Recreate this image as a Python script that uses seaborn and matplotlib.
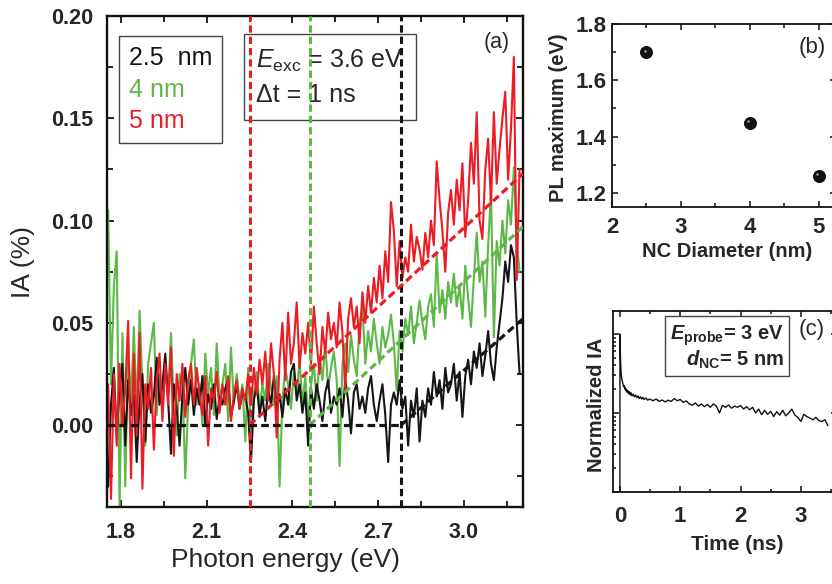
import numpy as np
import pandas as pd
import matplotlib
matplotlib.use("Agg")
import matplotlib.pyplot as plt
import matplotlib.transforms as mtransforms
import seaborn as sns
from matplotlib.lines import Line2D
from matplotlib.ticker import MultipleLocator, FormatStrFormatter, LogLocator, NullFormatter

# ---- panel (a): induced absorption spectra at dt = 1 ns ----
energy = np.round(np.linspace(1.755, 3.195, 145), 3)   # eV, spectrometer grid

ia_25nm = [
    -0.030, 0.010, 0.028, -0.005, 0.018, 0.030, -0.010, 0.022, 0.005, 0.015,
    -0.018, 0.012, 0.025, -0.008, 0.020, 0.006, 0.014, 0.033, 0.010, 0.020,
    0.035, 0.012, -0.014, 0.020, 0.008, -0.010, 0.015, 0.028, 0.010, 0.022,
    0.005, 0.018, 0.010, 0.024, 0.000, 0.015, 0.008, 0.020, 0.003, 0.014,
    0.010, 0.018, 0.022, 0.004, 0.012, 0.020, 0.008, 0.016, 0.014, 0.006,
    -0.018, 0.012, 0.020, 0.005, 0.014, 0.002, 0.018, 0.010, 0.024, 0.008,
    0.015, 0.004, 0.018, 0.010, 0.026, 0.030, 0.012, 0.020, 0.006, 0.016,
    -0.010, 0.018, 0.008, 0.020, 0.012, 0.002, 0.016, 0.022, 0.006, 0.014,
    0.010, 0.018, 0.004, 0.022, 0.012, -0.004, 0.016, 0.020, 0.008, 0.014,
    0.006, 0.018, 0.024, 0.010, 0.002, 0.012, 0.020, 0.005, -0.018, 0.010,
    0.016, 0.010, 0.022, 0.008, 0.014, -0.010, 0.012, 0.004, 0.018, -0.008,
    0.012, 0.004, 0.018, 0.010, 0.026, 0.014, 0.022, 0.008, 0.028, 0.016,
    0.020, 0.030, 0.012, 0.026, 0.004, 0.024, 0.032, 0.020, 0.036, 0.028,
    0.040, 0.024, 0.034, 0.046, 0.030, 0.022, 0.038, 0.050, 0.062, 0.080,
    0.070, 0.088, 0.082, 0.050, 0.025,
]
ia_4nm = [
    0.105, 0.020, 0.068, 0.085, -0.040, 0.045, -0.030, 0.040, 0.010, 0.048,
    0.005, 0.056, 0.020, -0.010, 0.030, 0.040, 0.050, 0.005, 0.025, 0.010,
    0.030, 0.015, 0.045, 0.008, -0.005, 0.025, 0.020, -0.026, 0.010, 0.030,
    0.042, 0.010, 0.020, 0.000, 0.035, 0.015, 0.028, 0.005, 0.040, 0.012,
    0.020, 0.030, 0.002, 0.038, 0.010, 0.025, 0.012, 0.020, -0.008, 0.028,
    -0.004, 0.015, 0.026, 0.008, 0.020, 0.012, 0.030, 0.018, 0.010, 0.024,
    -0.030, 0.012, 0.028, 0.020, 0.008, 0.026, 0.015, 0.032, 0.010, 0.024,
    0.002, 0.020, 0.030, 0.012, 0.034, 0.022, 0.040, 0.018, 0.028, 0.036,
    0.022, -0.020, 0.030, 0.040, 0.026, 0.044, 0.032, 0.024, 0.050, 0.058,
    0.030, 0.046, 0.036, 0.052, 0.040, 0.030, 0.048, 0.038, 0.044, 0.054,
    0.040, 0.017, 0.046, 0.036, 0.052, 0.044, 0.058, 0.040, 0.050, 0.061,
    0.050, 0.042, 0.058, 0.064, 0.048, 0.084, 0.055, 0.066, 0.052, 0.070,
    0.060, 0.074, 0.058, 0.068, 0.052, 0.078, 0.062, 0.048, 0.072, 0.094,
    0.070, 0.080, 0.053, 0.088, 0.114, 0.043, 0.090, 0.078, 0.100, 0.084,
    0.110, 0.098, 0.126, 0.090, 0.075,
]
ia_5nm = [
    0.020, -0.036, 0.025, -0.010, 0.030, 0.000, 0.018, 0.051, -0.026, 0.035,
    -0.005, 0.045, -0.031, 0.020, 0.008, 0.028, -0.012, 0.022, 0.035, 0.002,
    0.030, 0.010, 0.038, -0.015, 0.025, 0.012, 0.030, 0.004, 0.022, 0.030,
    0.010, 0.028, 0.015, 0.005, 0.024, -0.010, 0.018, 0.012, 0.026, 0.006,
    0.020, 0.010, 0.024, 0.002, 0.015, 0.022, 0.008, 0.018, 0.012, 0.025,
    0.010, 0.028, 0.015, 0.032, 0.020, 0.036, 0.012, 0.040, 0.025, -0.006,
    0.032, 0.050, 0.022, 0.055, 0.030, 0.040, 0.060, 0.028, 0.045, 0.035,
    0.050, 0.030, 0.058, 0.040, 0.025, 0.048, 0.035, 0.055, 0.042, 0.050,
    0.038, 0.060, 0.045, 0.017, 0.052, 0.062, 0.048, 0.058, 0.040, 0.065,
    0.050, 0.068, 0.055, 0.072, 0.060, 0.078, 0.062, 0.085, 0.070, 0.109,
    0.095, 0.068, 0.090, 0.072, 0.082, 0.075, 0.098, 0.080, 0.092, 0.086,
    0.076, 0.094, 0.082, 0.100, 0.088, 0.129, 0.110, 0.095, 0.075, 0.104,
    0.115, 0.098, 0.120, 0.105, 0.128, 0.092, 0.110, 0.138, 0.118, 0.153,
    0.100, 0.091, 0.125, 0.140, 0.108, 0.153, 0.118, 0.135, 0.150, 0.163,
    0.120, 0.145, 0.180, 0.071, 0.125,
]
sizes = ["2.5  nm", "4 nm", "5 nm"]
onsets = [2.78, 2.46, 2.25]          # eV, absorption onsets (dashed verticals)
fit_end = [0.052, 0.097, 0.123]      # IA of the linear fits at the high-energy end

# ---- panel (b): PL maximum vs NC size ----
nc_diameter = [2.5, 4.0, 5.0]
pl_max = [1.70, 1.45, 1.26]

# ---- panel (c): IA decay, E_probe = 3 eV, 5 nm NCs ----
time_ns = [
    -0.002, 0.0, 0.005, 0.01, 0.015, 0.02, 0.03, 0.04, 0.05, 0.06,
    0.07, 0.08, 0.09, 0.10, 0.11, 0.12, 0.13, 0.14, 0.15, 0.16,
    0.17, 0.18, 0.19, 0.20, 0.22, 0.24, 0.26, 0.28, 0.30, 0.32,
    0.34, 0.36, 0.38, 0.40, 0.43, 0.46, 0.49,
    0.55, 0.60, 0.65, 0.70, 0.75, 0.80, 0.85, 0.90, 0.95, 1.00,
    1.05, 1.10, 1.15, 1.20, 1.25, 1.30, 1.35, 1.40, 1.45, 1.50,
    1.55, 1.60, 1.65, 1.70, 1.75, 1.80, 1.85, 1.90, 1.95, 2.00,
    2.05, 2.10, 2.15, 2.20, 2.25, 2.30, 2.35, 2.40, 2.45, 2.50,
    2.55, 2.60, 2.65, 2.70, 2.75, 2.80, 2.85, 2.90, 2.95, 3.00,
    3.05, 3.10, 3.15, 3.20, 3.25, 3.30, 3.35, 3.40, 3.45,
]
norm_ia = [
    0.005, 1.0, 0.62, 0.45, 0.36, 0.31, 0.27, 0.25, 0.23, 0.215,
    0.222, 0.20, 0.208, 0.19, 0.198, 0.182, 0.192, 0.176, 0.186, 0.172,
    0.182, 0.168, 0.178, 0.165, 0.172, 0.160, 0.168, 0.156, 0.165, 0.152,
    0.160, 0.150, 0.158, 0.148, 0.155, 0.145, 0.150,
    0.143, 0.150, 0.140, 0.146, 0.138, 0.145, 0.140, 0.152, 0.143, 0.148,
    0.136, 0.142, 0.130, 0.125, 0.134, 0.122, 0.130, 0.120, 0.128, 0.118,
    0.130, 0.122, 0.100, 0.125, 0.118, 0.126, 0.115, 0.122, 0.118, 0.124,
    0.112, 0.120, 0.110, 0.118, 0.100, 0.112, 0.095, 0.108, 0.096, 0.105,
    0.090, 0.104, 0.094, 0.108, 0.092, 0.100, 0.112, 0.094, 0.088, 0.078,
    0.096, 0.090, 0.086, 0.082, 0.088, 0.080, 0.078, 0.082, 0.069,
]

colors = {"2.5  nm": "#151515", "4 nm": "#5db847", "5 nm": "#ec1c24"}

sns.set_theme(style="ticks")
plt.rcParams['font.family'] = ['Liberation Sans', 'DejaVu Sans']
plt.rcParams['mathtext.fontset'] = 'custom'
plt.rcParams['mathtext.rm'] = 'Liberation Sans'
plt.rcParams['mathtext.it'] = 'Liberation Sans:italic'
plt.rcParams['mathtext.bf'] = 'Liberation Sans:bold'
try:
    plt.rcParams['mathtext.bfit'] = 'Liberation Sans:italic:bold'
    has_bfit = True
except KeyError:
    has_bfit = False

fig = plt.figure(figsize=(8.32, 5.84), dpi=100, facecolor='white')
W, H = 832.0, 584.0
ax = fig.add_axes([107 / W, 1 - 507 / H, 416 / W, 491 / H])
axb = fig.add_axes([612 / W, 1 - 207 / H, 224 / W, 183 / H])
axc = fig.add_axes([613 / W, 1 - 492 / H, 224 / W, 181 / H])

# ---------------- (a) ----------------
df = pd.DataFrame({
    'energy': np.tile(energy, 3),
    'ia': ia_25nm + ia_4nm + ia_5nm,
    'size': np.repeat(sizes, len(energy)),
})
sns.lineplot(data=df, x='energy', y='ia', hue='size',
             hue_order=["4 nm", "2.5  nm", "5 nm"], palette=colors,
             lw=1.5, legend=False, ax=ax, errorbar=None)

x_lo, x_hi = 1.751, 3.207
ax.set_xlim(x_lo, x_hi)
ax.set_ylim(-0.04, 0.20)

for s, e0, y1 in zip(sizes, onsets, fit_end):
    ax.axvline(e0, color=colors[s], lw=2.2, dashes=(2.4, 1.3), zorder=4)
    ax.plot([e0, x_hi], [0, y1], color=colors[s], lw=2.3, dashes=(2.4, 1.3), zorder=5)
ax.plot([x_lo, onsets[0]], [0, 0], color=colors[sizes[0]], lw=2.3,
        dashes=(2.4, 1.3), zorder=5)

ax.xaxis.set_major_locator(MultipleLocator(0.3))
ax.xaxis.set_minor_locator(MultipleLocator(0.15))
ax.yaxis.set_major_locator(MultipleLocator(0.05))
ax.yaxis.set_minor_locator(MultipleLocator(0.025))
ax.yaxis.set_major_formatter(FormatStrFormatter('%.2f'))
ax.xaxis.set_major_formatter(FormatStrFormatter('%.1f'))
ax.tick_params(which='both', direction='in', top=True, right=True, width=1.3, color='#111')
ax.tick_params(which='major', length=5)
ax.tick_params(which='minor', length=4)
ax.tick_params(axis='y', pad=10)
ax.tick_params(axis='x', pad=11)
for lab in ax.get_xticklabels() + ax.get_yticklabels():
    lab.set_fontsize(15.5)
    lab.set_fontweight('bold')
for sp in ax.spines.values():
    sp.set_linewidth(1.7)
    sp.set_color('#111')

ax.set_xlabel('Photon energy (eV)', fontsize=19)
ax.set_ylabel('IA (%)', fontsize=19)
ax.xaxis.set_label_coords(0.43, -0.083)
ax.yaxis.set_label_coords(-0.172, 0.5)

handles = [Line2D([], [], lw=0) for _ in sizes]
leg = ax.legend(handles, sizes, loc='upper left', bbox_to_anchor=(0.029, 0.959),
                borderaxespad=0, handlelength=0, handletextpad=0, fontsize=18,
                frameon=True, fancybox=False, edgecolor='#444', framealpha=1,
                borderpad=0.4, labelspacing=0.3)
leg.get_frame().set_linewidth(1.0)
for t, s in zip(leg.get_texts(), sizes):
    t.set_color(colors[s])

ax.text(0.359, 0.936, "$E_{\\mathrm{exc}}$ = 3.6 eV\n\u0394t = 1 ns", transform=ax.transAxes,
        ha='left', va='top', fontsize=18, linespacing=1.5,
        bbox=dict(boxstyle='square,pad=0.5', fc='white', ec='#444', lw=1.0))
ax.text(0.9375, 0.947, '(a)', transform=ax.transAxes, ha='center', va='center', fontsize=15.5)

# ---------------- (b) ----------------
sns.scatterplot(x=nc_diameter, y=pl_max, ax=axb, color='#111', s=75,
                edgecolor='#000', linewidth=0.6, zorder=3)
shine = mtransforms.offset_copy(axb.transData, fig=fig, x=-1.6, y=1.6, units='dots')
axb.scatter(nc_diameter, pl_max, s=3, color='#b0b0b0', lw=0, zorder=4, transform=shine)
axb.set_xlim(2, 5.25)
axb.set_ylim(1.15, 1.8)
axb.xaxis.set_major_locator(MultipleLocator(1))
axb.xaxis.set_minor_locator(MultipleLocator(0.5))
axb.yaxis.set_major_locator(MultipleLocator(0.2))
axb.yaxis.set_minor_locator(MultipleLocator(0.1))
axb.yaxis.set_major_formatter(FormatStrFormatter('%.1f'))
axb.tick_params(which='both', direction='in', top=True, right=True, width=1.1, color='#111')
axb.tick_params(which='major', length=4)
axb.tick_params(which='minor', length=3)
axb.tick_params(axis='y', pad=4)
axb.tick_params(axis='x', pad=7)
for lab in axb.get_xticklabels() + axb.get_yticklabels():
    lab.set_fontsize(16)
    lab.set_fontweight('bold')
for sp in axb.spines.values():
    sp.set_linewidth(1.3)
    sp.set_color('#111')
axb.set_xlabel('NC Diameter (nm)', fontsize=14.5, fontweight='bold')
axb.set_ylabel('PL maximum (eV)', fontsize=14.5, fontweight='bold')
axb.xaxis.set_label_coords(0.513, -0.19)
axb.yaxis.set_label_coords(-0.195, 0.49)
axb.text(0.893, 0.869, '(b)', transform=axb.transAxes, ha='center', va='center', fontsize=16)

# ---------------- (c) ----------------
sns.lineplot(x=time_ns, y=norm_ia, ax=axc, color='#111', lw=1.0, errorbar=None,
             sort=False)
axc.set_yscale('log')
axc.set_xlim(-0.116, 3.6)
axc.set_ylim(0.01, 1.95)
axc.xaxis.set_major_locator(MultipleLocator(1))
axc.xaxis.set_minor_locator(MultipleLocator(0.5))
axc.yaxis.set_major_locator(LogLocator(base=10, numticks=10))
axc.yaxis.set_minor_locator(LogLocator(base=10, subs=np.arange(2, 10), numticks=20))
axc.yaxis.set_major_formatter(NullFormatter())
axc.yaxis.set_minor_formatter(NullFormatter())
axc.tick_params(which='both', direction='in', top=True, right=True, width=1.1, color='#111')
axc.tick_params(which='major', length=4)
axc.tick_params(which='minor', length=2.5)
axc.tick_params(axis='x', pad=10)
for lab in axc.get_xticklabels():
    lab.set_fontsize(16)
    lab.set_fontweight('bold')
for sp in axc.spines.values():
    sp.set_linewidth(1.3)
    sp.set_color('#111')
axc.set_xlabel('Time (ns)', fontsize=15, fontweight='bold')
axc.set_ylabel('Normalized IA', fontsize=14.5, fontweight='bold')
axc.xaxis.set_label_coords(0.553, -0.235)
axc.yaxis.set_label_coords(-0.03, 0.48)

if has_bfit:
    box_c = ("$\\mathbfit{E}_{\\mathbf{probe}}$= 3 eV\n"
             "$\\mathbfit{d}_{\\mathbf{NC}}$= 5 nm")
else:
    box_c = "$E_{\\mathbf{probe}}$= 3 eV\n$d_{\\mathbf{NC}}$= 5 nm"
axc.text(0.765, 0.93, box_c, transform=axc.transAxes, ha='right', va='top',
         multialignment='right', fontsize=14.5, fontweight='bold', linespacing=1.05,
         bbox=dict(boxstyle='square,pad=0.25', fc='white', ec='#444', lw=1.0))
axc.text(0.888, 0.90, '(c)', transform=axc.transAxes, ha='center', va='center', fontsize=16)

fig.savefig('out.png', dpi=100, facecolor='white')
